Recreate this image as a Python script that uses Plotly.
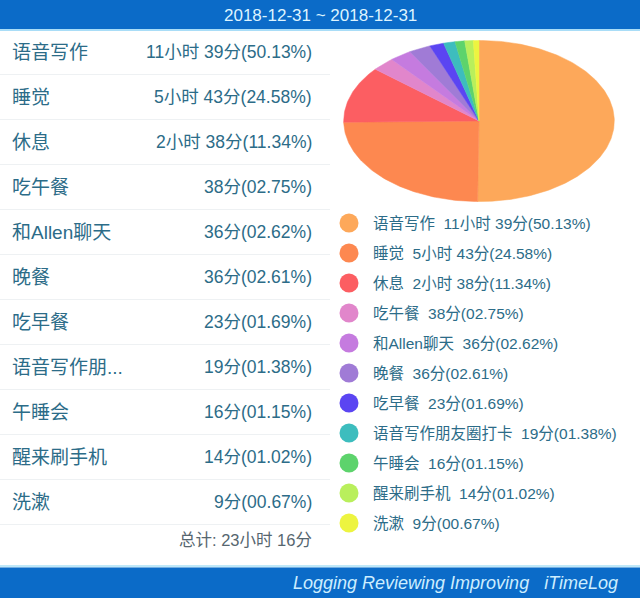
import math
import plotly.graph_objects as go

# ---- data ----
date_range = "2018-12-31 ~ 2018-12-31"
names = ["语音写作", "睡觉", "休息", "吃午餐", "和Allen聊天", "晚餐", "吃早餐",
         "语音写作朋友圈打卡", "午睡会", "醒来刷手机", "洗漱"]
table_labels = ["语音写作", "睡觉", "休息", "吃午餐", "和Allen聊天", "晚餐", "吃早餐",
                "语音写作朋...", "午睡会", "醒来刷手机", "洗漱"]
durations = ["11小时 39分", "5小时 43分", "2小时 38分", "38分", "36分", "36分", "23分",
             "19分", "16分", "14分", "9分"]
percents = [50.13, 24.58, 11.34, 2.75, 2.62, 2.61, 1.69, 1.38, 1.15, 1.02, 0.67]
total_label = "总计: 23小时 16分"
footer = "Logging Reviewing Improving\u00a0\u00a0\u00a0iTimeLog"
colors = ["#FDA85A", "#FD8850", "#FC5E62", "#E186CB", "#C57BDF", "#A07BD6",
          "#5B45F2", "#3DBDBE", "#5DD36C", "#B9EF5C", "#EDF440"]

W, H = 640, 598
FONT = "Liberation Sans, Noto Sans CJK SC, sans-serif"
TXT = "#2C6C88"
BLUE = "#0B6BC8"

fig = go.Figure()

# ---- pie as filled wedges on its own (elliptical) axes ----
tot = sum(percents)
cum = 0.0
for i, p in enumerate(percents):
    a0 = cum / tot * 2 * math.pi
    cum += p
    a1 = cum / tot * 2 * math.pi
    n = max(3, int((a1 - a0) / (2 * math.pi) * 360))
    xs, ys = [0.0], [0.0]
    for k in range(n + 1):
        a = a0 + (a1 - a0) * k / n
        xs.append(math.sin(a))
        ys.append(math.cos(a))
    xs.append(0.0)
    ys.append(0.0)
    fig.add_trace(go.Scatter(x=xs, y=ys, fill="toself", mode="lines",
                             line=dict(width=0.5, color=colors[i]),
                             fillcolor=colors[i], xaxis="x2", yaxis="y2",
                             hoverinfo="skip", showlegend=False))

# ---- custom legend markers ----
leg_y = [223 + 30 * i for i in range(len(names))]
fig.add_trace(go.Scatter(x=[349] * len(names), y=leg_y, mode="markers",
                         marker=dict(size=19, color=colors, line=dict(width=0)),
                         hoverinfo="skip", showlegend=False))

shapes = []
annotations = []

# top and bottom bars
shapes.append(dict(type="rect", xref="x", yref="y", x0=0, x1=W, y0=0, y1=29,
                   fillcolor=BLUE, line=dict(width=0), layer="below"))
shapes.append(dict(type="rect", xref="x", yref="y", x0=0, x1=W, y0=29, y1=31,
                   fillcolor="#A9DDF7", line=dict(width=0), layer="below"))
shapes.append(dict(type="rect", xref="x", yref="y", x0=0, x1=W, y0=565, y1=567.5,
                   fillcolor="#BFE8F8", line=dict(width=0), layer="below"))
shapes.append(dict(type="rect", xref="x", yref="y", x0=0, x1=W, y0=567.5, y1=H,
                   fillcolor=BLUE, line=dict(width=0), layer="below"))

annotations.append(dict(x=320, y=15, xref="x", yref="y", text=date_range,
                        showarrow=False, xanchor="center", yanchor="middle",
                        font=dict(family=FONT, size=17, color="#DDF4FF")))
annotations.append(dict(x=620, y=583, xref="x", yref="y", text=footer,
                        showarrow=False, xanchor="right", yanchor="middle",
                        font=dict(family=FONT, size=18, color="#CDEEFF", style="italic")))

# left table
row_y = [52 + 45 * i for i in range(len(names))]
for i in range(len(names)):
    annotations.append(dict(x=10, y=row_y[i], xref="x", yref="y", text=table_labels[i],
                            showarrow=False, xanchor="left", yanchor="middle",
                            font=dict(family=FONT, size=19, color=TXT)))
    annotations.append(dict(x=314, y=row_y[i], xref="x", yref="y",
                            text=f"{durations[i]}({percents[i]:05.2f}%)",
                            showarrow=False, xanchor="right", yanchor="middle",
                            font=dict(family=FONT, size=17.5, color=TXT)))
    sep = row_y[i] + 22.5
    shapes.append(dict(type="line", xref="x", yref="y", x0=0, x1=330, y0=sep, y1=sep,
                       line=dict(color="#EEF1F3", width=1), layer="below"))

annotations.append(dict(x=314, y=540, xref="x", yref="y", text=total_label,
                        showarrow=False, xanchor="right", yanchor="middle",
                        font=dict(family=FONT, size=16.5, color="#56666F")))

# legend text
for i in range(len(names)):
    annotations.append(dict(x=371, y=leg_y[i], xref="x", yref="y",
                            text=f"{names[i]}\u00a0\u00a0{durations[i]}({percents[i]:05.2f}%)",
                            showarrow=False, xanchor="left", yanchor="middle",
                            font=dict(family=FONT, size=15.5, color=TXT)))

fig.update_layout(
    width=W, height=H,
    margin=dict(l=0, r=0, t=0, b=0),
    paper_bgcolor="white", plot_bgcolor="white",
    showlegend=False,
    xaxis=dict(range=[0, W], visible=False, fixedrange=True, domain=[0, 1]),
    yaxis=dict(range=[H, 0], visible=False, fixedrange=True, domain=[0, 1]),
    xaxis2=dict(range=[-1.005, 1.005], visible=False, domain=[343 / W, 615 / W],
                anchor="y2"),
    yaxis2=dict(range=[-1.005, 1.005], visible=False,
                domain=[(H - 202) / H, (H - 40) / H], anchor="x2"),
    shapes=shapes,
    annotations=annotations,
)

fig.write_html("out.html", config={"displayModeBar": False},
               post_script="document.body.style.margin='0';document.body.style.overflow='hidden';")
